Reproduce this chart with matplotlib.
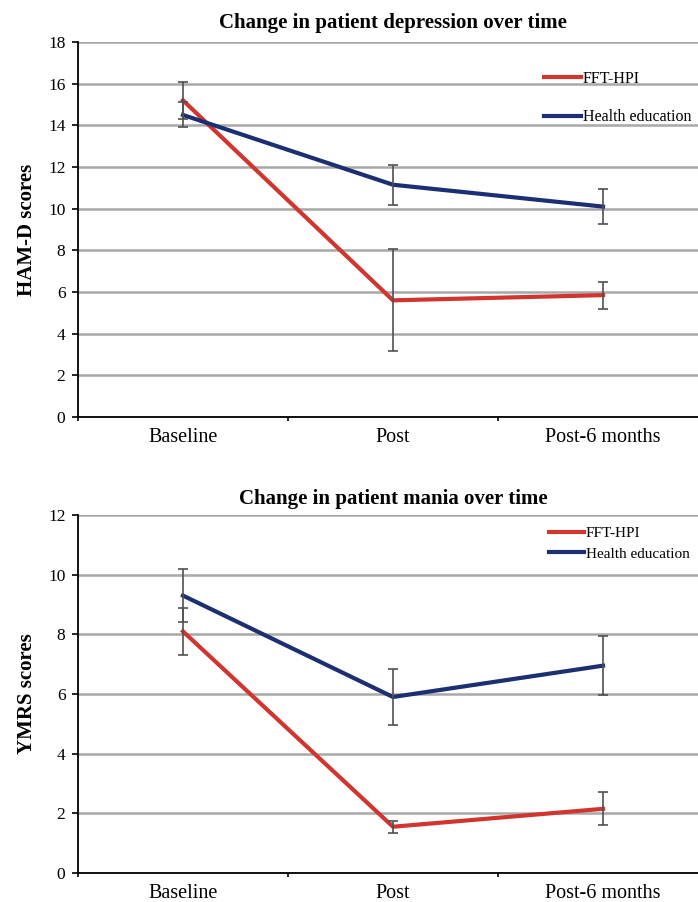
import numpy as np
import matplotlib.pyplot as plt

plt.rcParams['font.family'] = ['Liberation Serif', 'DejaVu Serif']

times = ['Baseline', 'Post', 'Post-6 months']

# HAM-D (depression)
hamd_fft = [15.2, 5.6, 5.85]
hamd_fft_err = [0.9, 2.45, 0.65]
hamd_he = [14.5, 11.15, 10.1]
hamd_he_err = [0.6, 0.95, 0.85]

# YMRS (mania)
ymrs_fft = [8.1, 1.55, 2.15]
ymrs_fft_err = [0.8, 0.2, 0.55]
ymrs_he = [9.3, 5.9, 6.95]
ymrs_he_err = [0.9, 0.95, 1.0]

red = '#d0352f'
blue = '#1b2f72'

fig = plt.figure(figsize=(6.98, 9.02), dpi=100)
ax1 = fig.add_axes([0.1117, 0.5377, 0.9026, 0.4157])
ax2 = fig.add_axes([0.1117, 0.0322, 0.9026, 0.3968])


def panel(ax, fft, fft_err, he, he_err, ymax, ylabel, title, title_pad, leg_anchor, leg_space, leg_size):
    x = np.arange(len(times))
    ax.plot(x, fft, color=red, lw=3, label='FFT-HPI', zorder=3)
    ax.plot(x, he, color=blue, lw=3, label='Health education', zorder=3)
    ax.errorbar(x, fft, yerr=fft_err, fmt='none', ecolor='#505050', elinewidth=1.2,
                capsize=3.5, capthick=1.2, zorder=4)
    ax.errorbar(x, he, yerr=he_err, fmt='none', ecolor='#505050', elinewidth=1.2,
                capsize=3.5, capthick=1.2, zorder=4)
    ax.set_xlim(-0.5, 2.5)
    ax.set_ylim(0, ymax)
    ax.set_yticks(np.arange(0, ymax + 1, 2))
    ax.yaxis.grid(True, color='#a8a8a8', lw=1.8)
    ax.set_axisbelow(True)
    ax.set_xticks(x)
    ax.set_xticklabels(times, fontsize=14.5)
    ax.set_xticks([-0.5, 0.5, 1.5, 2.5], minor=True)
    ax.tick_params(axis='x', which='major', length=0, pad=8)
    ax.tick_params(axis='x', which='minor', length=3, width=1.2)
    ax.tick_params(axis='y', length=4, width=1.2, labelsize=12.5, pad=5)
    for s in ['top', 'right']:
        ax.spines[s].set_visible(False)
    ax.spines['left'].set_linewidth(1.3)
    ax.spines['bottom'].set_linewidth(1.3)
    ax.set_ylabel(ylabel, fontsize=15, fontweight='bold', labelpad=8)
    ax.set_title(title, fontsize=15, fontweight='bold', pad=title_pad)
    ax.legend(loc='upper left', bbox_to_anchor=leg_anchor, frameon=False,
              fontsize=leg_size, handlelength=2.3, handletextpad=0.1,
              labelspacing=leg_space, borderaxespad=0)


panel(ax1, hamd_fft, hamd_fft_err, hamd_he, hamd_he_err, 18, 'HAM-D scores',
      'Change in patient depression over time', 10, (0.73, 0.94), 1.4, 11.5)
panel(ax2, ymrs_fft, ymrs_fft_err, ymrs_he, ymrs_he_err, 12, 'YMRS scores',
      'Change in patient mania over time', 8, (0.738, 0.985), 0.45, 11)

fig.savefig('out.png', dpi=100)
